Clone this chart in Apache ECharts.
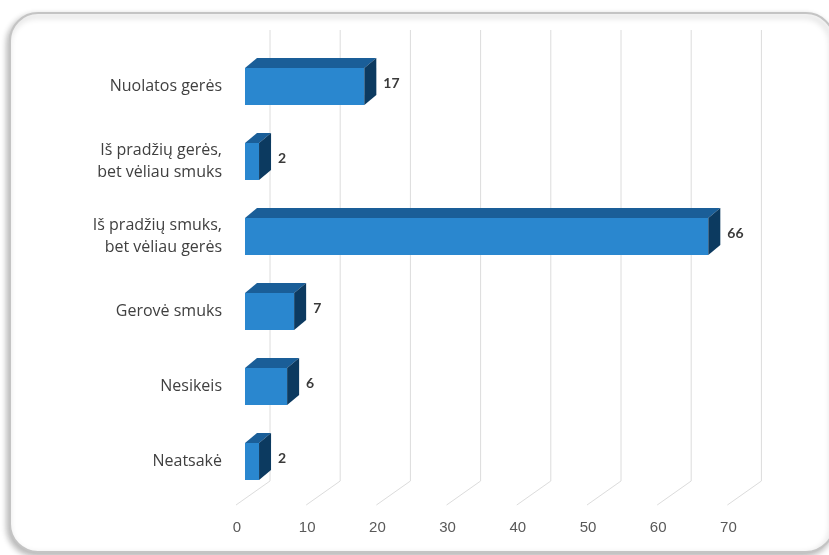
<!DOCTYPE html>
<html>
<head>
<meta charset="utf-8">
<script src="https://cdn.jsdelivr.net/npm/echarts@6/dist/echarts.min.js"></script>
<style>
  html, body { margin: 0; padding: 0; background: #ffffff; }
  #chart { width: 829px; height: 555px; }
</style>
</head>
<body>
<div id="chart"></div>
<script>
// ---- data ----
const categories = [
  'Nuolatos gerės',
  'Iš pradžių gerės,\nbet vėliau smuks',
  'Iš pradžių smuks,\nbet vėliau gerės',
  'Gerovė smuks',
  'Nesikeis',
  'Neatsakė'
];
const values = [17, 2, 66, 7, 6, 2];
const tickValues = [0, 10, 20, 30, 40, 50, 60, 70];

// ---- style ----
const FRONT = '#2a87cf';
const TOP = '#1a5e98';
const SIDE = '#0c3a60';
const GRID_COLOR = '#dcdcdc';
const DX = 12, DY = -10;

const chart = echarts.init(document.getElementById('chart'), null, { renderer: 'canvas' });

function renderBar(params, api) {
  const val = api.value(0);
  const cat = api.value(1);
  const p0 = api.coord([0, cat]);
  const p1 = api.coord([val, cat]);
  const h = api.size([0, 1])[1] * 0.493;
  const x0 = p0[0], x1 = p1[0];
  const yT = p0[1] - h / 2, yB = p0[1] + h / 2;
  return {
    type: 'group',
    children: [
      { type: 'rect', shape: { x: x0, y: yT, width: x1 - x0, height: h }, style: { fill: FRONT } },
      { type: 'polygon', shape: { points: [[x0, yT], [x0 + DX, yT + DY], [x1 + DX, yT + DY], [x1, yT]] }, style: { fill: TOP } },
      { type: 'polygon', shape: { points: [[x1, yT], [x1 + DX, yT + DY], [x1 + DX, yB + DY], [x1, yB]] }, style: { fill: SIDE } },
      { type: 'text', x: x1 + 19, y: p0[1] - 3,
        style: { text: String(val), fill: '#3a3a3a', font: 'bold 14px Lato', verticalAlign: 'middle', align: 'left' } }
    ]
  };
}

function renderGridLine(params, api) {
  const v = api.value(0);
  const p = api.coord([v, 0]);
  const cs = params.coordSys;
  const bottom = cs.y + cs.height;
  const xb = p[0] + 25;
  const yTop = cs.y - 19;
  const yBack = bottom - 18;
  const xf = p[0] - 9;
  const yFront = bottom + 6;
  return {
    type: 'group',
    children: [
      { type: 'line', shape: { x1: xb, y1: yTop, x2: xb, y2: yBack }, style: { stroke: GRID_COLOR, lineWidth: 1 } },
      { type: 'line', shape: { x1: xb, y1: yBack, x2: xf, y2: yFront }, style: { stroke: GRID_COLOR, lineWidth: 1 } }
    ]
  };
}

const option = {
  backgroundColor: '#ffffff',
  animation: false,
  graphic: {
    elements: [
      {
        type: 'rect', z: -100,
        shape: { x: 10, y: 13, width: 824, height: 539, r: 28 },
        style: { fill: '#ffffff', stroke: '#c4c4c4', lineWidth: 2,
                 shadowBlur: 6, shadowColor: 'rgba(0,0,0,0.28)', shadowOffsetX: -2, shadowOffsetY: 3 }
      }
    ]
  },
  grid: [
    { left: 245, right: 92.6, top: 49, bottom: 56 },
    { left: 237, right: 100.6, top: 49, bottom: 56 }
  ],
  xAxis: [
    { type: 'value', gridIndex: 0, min: 0, max: 70, interval: 10,
      axisLabel: { show: false }, axisLine: { show: false }, axisTick: { show: false }, splitLine: { show: false } },
    { type: 'value', gridIndex: 1, min: 0, max: 70, interval: 10,
      axisLabel: { show: true, margin: 21, color: '#595959', fontFamily: 'Liberation Sans', fontSize: 15 },
      axisLine: { show: false }, axisTick: { show: false }, splitLine: { show: false } }
  ],
  yAxis: [
    { type: 'category', gridIndex: 0, data: categories, inverse: true,
      axisLine: { show: false }, axisTick: { show: false }, splitLine: { show: false },
      axisLabel: { margin: 23, color: '#404040', fontFamily: 'Open Sans', fontSize: 16, lineHeight: 22.5,
                   align: 'right', padding: [0, 0, 6, 0] } },
    { type: 'category', gridIndex: 1, data: categories, inverse: true, show: false }
  ],
  series: [
    { type: 'custom', xAxisIndex: 0, yAxisIndex: 0, z: 1,
      data: tickValues.map(v => [v, 0]), renderItem: renderGridLine, silent: true },
    { type: 'custom', xAxisIndex: 0, yAxisIndex: 0, z: 5,
      data: values.map((v, i) => [v, i]), renderItem: renderBar }
  ]
};
chart.setOption(option);
</script>
</body>
</html>
